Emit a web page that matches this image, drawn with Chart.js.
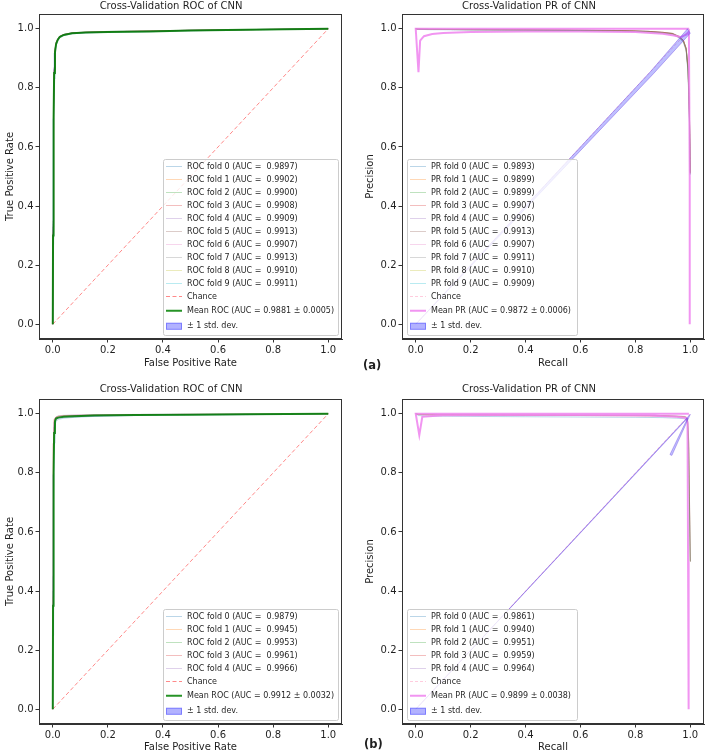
<!DOCTYPE html>
<html>
<head>
<meta charset="utf-8">
<script src="https://cdn.jsdelivr.net/npm/chart.js@4.4.0/dist/chart.umd.min.js"></script>
<style>
  body { margin: 0; background: #fff; }
  #fig { position: relative; width: 708px; height: 753px; }
  #fig canvas { position: absolute; }
  .panel-tag { position: absolute; font-family: 'DejaVu Sans', sans-serif; font-weight: bold; font-size: 11.5px; color: #1f1f1f; }
</style>
</head>
<body>
<div id="fig">
  <canvas id="roc-a" width="354" height="375" style="left:0;top:0"></canvas>
  <canvas id="pr-a" width="354" height="375" style="left:354px;top:0"></canvas>
  <canvas id="roc-b" width="354" height="378" style="left:0;top:375px"></canvas>
  <canvas id="pr-b" width="354" height="378" style="left:354px;top:375px"></canvas>
  <div class="panel-tag" style="left:363px;top:358px">(a)</div>
  <div class="panel-tag" style="left:364px;top:737px">(b)</div>
</div>
<script>
// ---- (a) ROC, 10 folds ----
const rocFprA = [0, 0.001, 0.003, 0.005, 0.008, 0.012, 0.018, 0.025, 0.04, 0.07, 0.12, 0.2, 0.35, 0.5, 0.7, 0.85, 1.0];
const rocTprFoldsA = [
    [0, 0.27, 0.66, 0.83, 0.910, 0.943, 0.959, 0.970, 0.977, 0.983, 0.986, 0.988, 0.990, 0.993, 0.996, 0.998, 1],
    [0, 0.31, 0.71, 0.855, 0.923, 0.950, 0.963, 0.973, 0.980, 0.985, 0.988, 0.990, 0.992, 0.994, 0.997, 0.998, 1],
    [0, 0.29, 0.69, 0.845, 0.918, 0.947, 0.961, 0.971, 0.979, 0.984, 0.987, 0.989, 0.991, 0.994, 0.996, 0.998, 1],
    [0, 0.33, 0.72, 0.86, 0.925, 0.952, 0.964, 0.973, 0.980, 0.986, 0.988, 0.990, 0.992, 0.995, 0.997, 0.999, 1],
    [0, 0.32, 0.73, 0.865, 0.927, 0.953, 0.965, 0.974, 0.981, 0.986, 0.988, 0.990, 0.992, 0.995, 0.997, 0.999, 1],
    [0, 0.35, 0.74, 0.87, 0.930, 0.955, 0.966, 0.975, 0.981, 0.986, 0.989, 0.991, 0.993, 0.995, 0.997, 0.999, 1],
    [0, 0.30, 0.71, 0.86, 0.924, 0.951, 0.963, 0.973, 0.980, 0.985, 0.988, 0.990, 0.992, 0.995, 0.997, 0.998, 1],
    [0, 0.34, 0.74, 0.868, 0.929, 0.954, 0.966, 0.975, 0.981, 0.986, 0.989, 0.991, 0.993, 0.995, 0.997, 0.999, 1],
    [0, 0.31, 0.72, 0.862, 0.926, 0.952, 0.964, 0.974, 0.980, 0.986, 0.988, 0.990, 0.992, 0.995, 0.997, 0.998, 1],
    [0, 0.33, 0.73, 0.864, 0.927, 0.953, 0.965, 0.974, 0.981, 0.986, 0.988, 0.991, 0.992, 0.995, 0.997, 0.999, 1],
];
const rocTprMeanA = [0, 0.30, 0.70, 0.85, 0.92, 0.948, 0.962, 0.972, 0.979, 0.985, 0.987, 0.989, 0.991, 0.994, 0.997, 0.998, 1.0];
const rocTprStdA = [0, 0.004, 0.004, 0.003, 0.002, 0.002, 0.0015, 0.001, 0.001, 0.001, 0.001, 0.001, 0.001, 0.0008, 0.0005, 0.0004, 0];
const rocAucA = [0.9897, 0.9902, 0.9900, 0.9908, 0.9909, 0.9913, 0.9907, 0.9913, 0.9910, 0.9911];
const rocMeanAucA = [0.9881, 0.0005];

// ---- (a) PR, 10 folds ----
const prRecallA = [0, 0.01, 0.05, 0.2, 0.4, 0.6, 0.75, 0.85, 0.9, 0.935, 0.96, 0.975, 0.985, 0.992, 0.997, 1.0];
const prPrecFoldsA = [
    [1.0, 0.998, 0.997, 0.996, 0.995, 0.994, 0.992, 0.989, 0.985, 0.981, 0.969, 0.954, 0.925, 0.85, 0.68, 0.505],
    [1.0, 0.999, 0.998, 0.997, 0.996, 0.995, 0.993, 0.990, 0.986, 0.982, 0.971, 0.957, 0.928, 0.86, 0.70, 0.510],
    [1.0, 0.999, 0.998, 0.997, 0.996, 0.994, 0.993, 0.990, 0.986, 0.982, 0.970, 0.956, 0.930, 0.855, 0.69, 0.508],
    [1.0, 0.999, 0.998, 0.997, 0.996, 0.995, 0.994, 0.991, 0.988, 0.984, 0.973, 0.960, 0.933, 0.865, 0.71, 0.512],
    [1.0, 0.999, 0.998, 0.997, 0.996, 0.995, 0.993, 0.991, 0.987, 0.983, 0.972, 0.959, 0.932, 0.862, 0.705, 0.510],
    [1.0, 0.999, 0.999, 0.998, 0.997, 0.995, 0.994, 0.991, 0.988, 0.985, 0.974, 0.961, 0.935, 0.87, 0.72, 0.515],
    [1.0, 0.999, 0.998, 0.997, 0.996, 0.995, 0.994, 0.991, 0.987, 0.983, 0.973, 0.959, 0.931, 0.86, 0.70, 0.510],
    [1.0, 0.999, 0.999, 0.998, 0.997, 0.995, 0.994, 0.991, 0.988, 0.984, 0.974, 0.960, 0.934, 0.868, 0.715, 0.513],
    [1.0, 0.999, 0.998, 0.997, 0.996, 0.995, 0.994, 0.991, 0.988, 0.984, 0.973, 0.960, 0.933, 0.866, 0.71, 0.512],
    [1.0, 0.999, 0.998, 0.997, 0.996, 0.995, 0.994, 0.991, 0.987, 0.984, 0.973, 0.960, 0.932, 0.864, 0.708, 0.511],
];
const prMeanRecallA = [0.996, 0, 0.01, 0.016, 0.03, 0.06, 0.1, 0.2, 0.4, 0.6, 0.8, 0.9, 0.94, 0.965, 0.985, 0.995, 0.998, 0.998];
const prMeanPrecA = [1.0, 1.0, 0.853, 0.96, 0.975, 0.982, 0.986, 0.989, 0.991, 0.991, 0.989, 0.983, 0.977, 0.972, 0.98, 0.99, 0.5, 0.0];
const prStdRecallA = [0, 0.855, 0.99, 1.0, 0.866, 0];
const prStdPrecA = [0, 0.855, 1.0, 0.985, 0.848, 0];
const prAucA = [0.9893, 0.9899, 0.9899, 0.9907, 0.9906, 0.9913, 0.9907, 0.9911, 0.9910, 0.9909];
const prMeanAucA = [0.9872, 0.0006];

// ---- (b) ROC, 5 folds ----
const rocFprB = [0, 0.001, 0.003, 0.005, 0.008, 0.012, 0.02, 0.04, 0.08, 0.15, 0.3, 0.5, 0.7, 0.85, 1.0];
const rocTprFoldsB = [
    [0, 0.25, 0.70, 0.90, 0.960, 0.975, 0.981, 0.985, 0.988, 0.991, 0.994, 0.996, 0.997, 0.998, 1],
    [0, 0.38, 0.84, 0.95, 0.980, 0.987, 0.990, 0.992, 0.994, 0.995, 0.997, 0.998, 0.998, 0.999, 1],
    [0, 0.40, 0.86, 0.955, 0.982, 0.988, 0.991, 0.993, 0.994, 0.996, 0.997, 0.998, 0.999, 0.999, 1],
    [0, 0.90, 0.97, 0.982, 0.986, 0.989, 0.992, 0.994, 0.995, 0.996, 0.997, 0.998, 0.999, 0.999, 1],
    [0, 0.45, 0.88, 0.96, 0.984, 0.990, 0.993, 0.995, 0.996, 0.997, 0.998, 0.999, 0.999, 1.0, 1],
];
const rocTprMeanB = [0, 0.35, 0.80, 0.935, 0.975, 0.984, 0.987, 0.990, 0.992, 0.994, 0.996, 0.997, 0.998, 0.999, 1.0];
const rocTprStdB = [0, 0.005, 0.005, 0.004, 0.003, 0.003, 0.002, 0.002, 0.002, 0.002, 0.001, 0.001, 0.001, 0.0005, 0];
const rocAucB = [0.9879, 0.9945, 0.9953, 0.9961, 0.9966];
const rocMeanAucB = [0.9912, 0.0032];

// ---- (b) PR, 5 folds ----
const prRecallB = [0, 0.01, 0.05, 0.2, 0.4, 0.6, 0.8, 0.9, 0.95, 0.97, 0.98, 0.986, 0.99, 0.994, 0.997, 1.0];
const prPrecFoldsB = [
    [1.0, 0.994, 0.992, 0.991, 0.990, 0.989, 0.988, 0.987, 0.985, 0.984, 0.983, 0.981, 0.970, 0.88, 0.68, 0.5],
    [1.0, 0.997, 0.996, 0.995, 0.995, 0.994, 0.993, 0.992, 0.990, 0.989, 0.988, 0.986, 0.976, 0.90, 0.70, 0.5],
    [1.0, 0.998, 0.997, 0.996, 0.995, 0.995, 0.994, 0.993, 0.991, 0.990, 0.989, 0.987, 0.978, 0.905, 0.71, 0.5],
    [1.0, 0.998, 0.997, 0.997, 0.996, 0.995, 0.995, 0.994, 0.992, 0.991, 0.990, 0.988, 0.980, 0.91, 0.72, 0.5],
    [1.0, 0.998, 0.998, 0.997, 0.996, 0.996, 0.995, 0.994, 0.993, 0.992, 0.991, 0.989, 0.981, 0.915, 0.72, 0.5],
];
const prMeanRecallB = [0.995, 0, 0.013, 0.024, 0.1, 0.3, 0.6, 0.85, 0.95, 0.985, 0.99, 0.992, 0.994];
const prMeanPrecB = [1.0, 1.0, 0.928, 0.99, 0.995, 0.996, 0.996, 0.994, 0.99, 0.986, 0.97, 0.5, 0.0];
const prStdRecallB = [0, 0.99, 0.926, 0.933, 1.0, 0.0];
const prStdPrecB = [0, 0.985, 0.862, 0.859, 0.998, 0.0];
const prAucB = [0.9861, 0.9940, 0.9951, 0.9959, 0.9964];
const prMeanAucB = [0.9899, 0.0038];

const chanceLine = [0, 1];
const tickValues = [0, 0.2, 0.4, 0.6, 0.8, 1.0];

const FONT = "'DejaVu Sans', sans-serif";
const INK = '#1f1f1f';
const foldColors = ['31,119,180', '255,127,14', '44,160,44', '214,39,40', '148,103,189',
                    '140,86,75', '227,119,194', '127,127,127', '188,189,34', '23,190,207'];

function curve(xs, ys) {
    return xs.map((x, i) => ({ x: x, y: ys[i] }));
}

function line(label, data, color, width, order, extra) {
    return Object.assign({
        label: label, data: data, borderColor: color, borderWidth: width,
        pointRadius: 0, tension: 0, fill: false, order: order,
    }, extra || {});
}

function foldSets(kind, xs, folds, aucs) {
    return folds.map((ys, i) => line(`${kind} fold ${i} (AUC =  ${aucs[i].toFixed(4)})`,
        curve(xs, ys), `rgba(${foldColors[i]},0.3)`, 1, 3));
}

// band polygon: upper edge forward, lower edge back
function rocBand(xs, mean, std) {
    const up = xs.map((x, i) => ({ x: x, y: Math.min(mean[i] + std[i], 1) }));
    const lo = xs.map((x, i) => ({ x: x, y: Math.max(mean[i] - std[i], 0) })).reverse();
    return up.concat(lo);
}

function bandSet(data, order, edge) {
    return line('\u00b1 1 std. dev.', data, edge, 1, order,
        { fill: 'shape', backgroundColor: 'rgba(0,0,255,0.25)', isBand: true });
}

// matplotlib-like closed frame around the axes
const frame = {
    id: 'frame',
    afterDatasetsDraw(chart) {
        const { ctx, chartArea: a } = chart;
        ctx.save();
        ctx.strokeStyle = '#333';
        ctx.lineWidth = 1;
        ctx.strokeRect(Math.round(a.left) + 0.5, Math.round(a.top) + 0.5,
            Math.round(a.right - a.left) - 1, Math.round(a.bottom - a.top) - 1);
        ctx.restore();
    }
};

// legend box inside the axes, in the lower corner
const boxLegend = {
    id: 'boxLegend',
    afterDraw(chart, args, opts) {
        const { ctx, chartArea: a } = chart;
        const items = chart.data.datasets.filter(d => d.label);
        const hs = items.map(d => d.label.indexOf('\u00b1') >= 0 ? 15.5 : 13);
        const total = 1 + hs.reduce((s, h) => s + h, 0) + 1;
        const left = opts.side === 'right' ? a.right - 4 - opts.width : a.left + 5;
        const top = a.bottom - 4 - total;

        ctx.save();
        ctx.beginPath();
        ctx.roundRect(left + 0.5, top + 0.5, opts.width, total, 2);
        ctx.fillStyle = 'rgba(255,255,255,0.8)';
        ctx.fill();
        ctx.strokeStyle = '#cccccc';
        ctx.lineWidth = 1;
        ctx.stroke();

        ctx.font = `8px ${FONT}`;
        ctx.textBaseline = 'middle';
        let y = top + 1;
        items.forEach((d, i) => {
            const cy = y + hs[i] / 2;
            const x0 = left + 3, x1 = left + 19;
            if (d.isBand) {
                ctx.fillStyle = 'rgba(0,0,255,0.3)';
                ctx.fillRect(x0, cy - 3.5, x1 - x0, 7);
                ctx.strokeStyle = 'rgba(0,0,255,0.3)';
                ctx.lineWidth = 1;
                ctx.strokeRect(x0 + 0.5, cy - 3, x1 - x0 - 1, 6);
            } else {
                ctx.beginPath();
                ctx.setLineDash(d.borderDash || []);
                ctx.strokeStyle = d.borderColor;
                ctx.lineWidth = d.borderWidth;
                ctx.moveTo(x0, cy);
                ctx.lineTo(x1, cy);
                ctx.stroke();
                ctx.setLineDash([]);
            }
            ctx.fillStyle = INK;
            ctx.fillText(d.label, left + 24, cy);
            y += hs[i];
        });
        ctx.restore();
    }
};

function axis(title, titlePad, size, dim) {
    return {
        type: 'linear',
        min: -0.05,
        max: 1.05,
        afterBuildTicks: s => { s.ticks = tickValues.map(v => ({ value: v })); },
        afterFit: s => { s[dim] = size; },
        ticks: {
            color: INK, font: { family: FONT, size: 10 }, padding: 2,
            autoSkip: false, maxRotation: 0, callback: v => v.toFixed(1),
        },
        grid: { display: true, drawOnChartArea: false, drawTicks: true, tickLength: 3.5, color: '#333' },
        border: { display: true, color: '#333', width: 1 },
        title: { display: true, text: title, color: INK, font: { family: FONT, size: 10 }, padding: titlePad },
    };
}

function makePlot(id, cfg) {
    return new Chart(document.getElementById(id), {
        type: 'line',
        data: { datasets: cfg.datasets },
        options: {
            responsive: false,
            animation: false,
            events: [],
            layout: { padding: { left: 0, right: cfg.right, top: 0, bottom: 0 } },
            plugins: {
                legend: { display: false },
                tooltip: { enabled: false },
                title: {
                    display: true, text: cfg.title, color: INK,
                    font: { family: FONT, size: 10, weight: 'normal' }, padding: cfg.titlePad,
                },
                boxLegend: cfg.legend,
            },
            scales: {
                x: axis(cfg.xTitle, { top: 0, bottom: cfg.xTitleBottom }, cfg.xHeight, 'height'),
                y: axis(cfg.yTitle, { top: cfg.yTitleLeft, bottom: 0 }, cfg.yWidth, 'width'),
            }
        },
        plugins: [frame, boxLegend]
    });
}

function rocSets(xs, folds, aucs, mean, std, meanAuc) {
    return foldSets('ROC', xs, folds, aucs).concat([
        line('Chance', curve(chanceLine, chanceLine), 'rgba(255,40,40,0.55)', 1, 2, { borderDash: [4, 2.5] }),
        line(`Mean ROC (AUC = ${meanAuc[0].toFixed(4)} \u00b1 ${meanAuc[1].toFixed(4)})`,
            curve(xs, mean), 'rgba(0,128,0,0.85)', 2, 0),
        bandSet(rocBand(xs, mean, std), 1, 'rgba(0,0,255,0.1)'),
    ]);
}

function prSets(xs, folds, aucs, mx, my, sx, sy, meanAuc) {
    return foldSets('PR', xs, folds, aucs).concat([
        line('Chance', curve(chanceLine, chanceLine), 'rgba(255,170,200,0.6)', 1, 2, { borderDash: [3, 2] }),
        line(`Mean PR (AUC = ${meanAuc[0].toFixed(4)} \u00b1 ${meanAuc[1].toFixed(4)})`,
            curve(mx, my), 'rgba(238,130,238,0.85)', 2, 1),
        bandSet(curve(sx, sy), 0, 'rgba(110,70,225,0.4)'),
    ]);
}

const topPanel = { titlePad: { top: 0, bottom: 2 }, xHeight: 36, xTitleBottom: 6 };
const bottomPanel = { titlePad: { top: 8, bottom: 4 }, xHeight: 29, xTitleBottom: 0 };

makePlot('roc-a', Object.assign({
    title: 'Cross-Validation ROC of CNN', xTitle: 'False Positive Rate', yTitle: 'True Positive Rate',
    right: 12, yWidth: 39, yTitleLeft: 4, legend: { side: 'right', width: 175 },
    datasets: rocSets(rocFprA, rocTprFoldsA, rocAucA, rocTprMeanA, rocTprStdA, rocMeanAucA),
}, topPanel));

makePlot('pr-a', Object.assign({
    title: 'Cross-Validation PR of CNN', xTitle: 'Recall', yTitle: 'Precision',
    right: 4, yWidth: 48, yTitleLeft: 10, legend: { side: 'left', width: 170 },
    datasets: prSets(prRecallA, prPrecFoldsA, prAucA, prMeanRecallA, prMeanPrecA, prStdRecallA, prStdPrecA, prMeanAucA),
}, topPanel));

makePlot('roc-b', Object.assign({
    title: 'Cross-Validation ROC of CNN', xTitle: 'False Positive Rate', yTitle: 'True Positive Rate',
    right: 12, yWidth: 39, yTitleLeft: 4, legend: { side: 'right', width: 175 },
    datasets: rocSets(rocFprB, rocTprFoldsB, rocAucB, rocTprMeanB, rocTprStdB, rocMeanAucB),
}, bottomPanel));

makePlot('pr-b', Object.assign({
    title: 'Cross-Validation PR of CNN', xTitle: 'Recall', yTitle: 'Precision',
    right: 4, yWidth: 48, yTitleLeft: 10, legend: { side: 'left', width: 170 },
    datasets: prSets(prRecallB, prPrecFoldsB, prAucB, prMeanRecallB, prMeanPrecB, prStdRecallB, prStdPrecB, prMeanAucB),
}, bottomPanel));
</script>
</body>
</html>
